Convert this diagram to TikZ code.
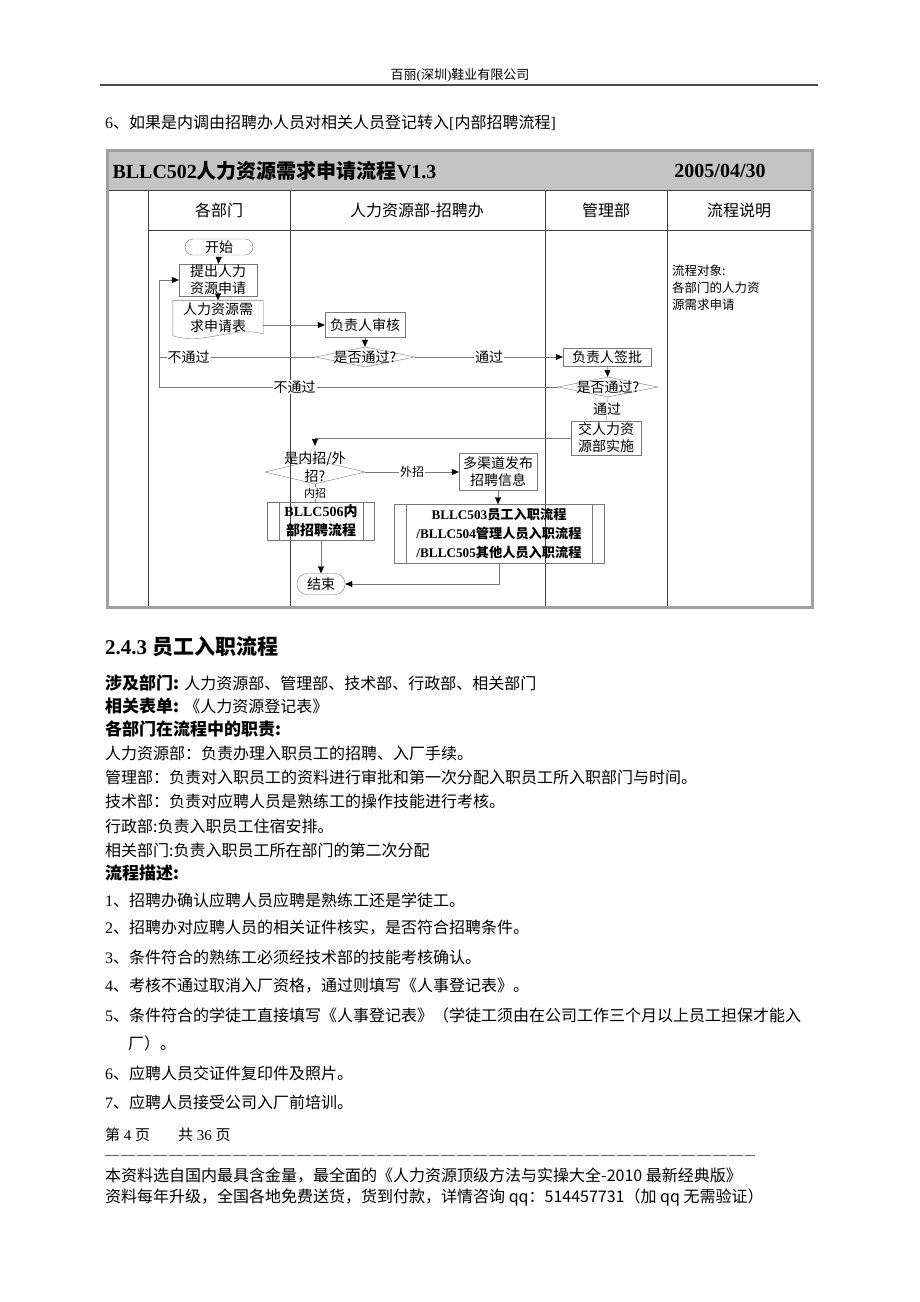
\documentclass[tikz,border=0pt]{standalone}
\usepackage{fontspec}
\setmainfont{Noto Sans CJK SC}
\newfontfamily\tnr{Liberation Serif}
\usetikzlibrary{shapes.geometric, arrows.meta, positioning, calc}
\definecolor{linegray}{RGB}{120,120,120}
\definecolor{framegray}{RGB}{160,160,160}
\definecolor{bargray}{RGB}{196,196,196}
\tikzstyle{procbox} = [draw=linegray, inner sep=1pt, align=center, font=\fontsize{14}{17}\selectfont]
\tikzstyle{terminal} = [draw=linegray, rounded corners=8pt, inner sep=1pt, font=\fontsize{14}{17}\selectfont]
\tikzstyle{decision} = [diamond, draw=linegray, inner sep=0pt, minimum width=100pt, minimum height=20pt, font=\fontsize{14}{18}\selectfont]
\tikzstyle{subproc} = [draw=linegray, inner sep=1pt, align=center, font=\bfseries\fontsize{14}{19}\selectfont]
\tikzstyle{arrow} = [linegray, -{Triangle[length=7pt,width=6pt,color=black]}]
\tikzstyle{connector} = [linegray]
\tikzstyle{flowlabel} = [fill=white, text=black, inner sep=1pt, font=\fontsize{14}{14}\selectfont]
\tikzstyle{lane} = [black!75, line width=0.8pt]
\tikzstyle{bodytext} = [anchor=west, inner sep=0pt, font=\fontsize{16}{16}\selectfont]
\tikzstyle{bodyhead} = [anchor=west, inner sep=0pt, font=\bfseries\fontsize{17}{17}\selectfont]

\begin{document}
\begin{tikzpicture}[x=1pt, y=-1pt]
        \useasboundingbox[fill=white] (0,0) rectangle (920,1302);

        % Page header
        \node[font=\fontsize{13}{13}\selectfont] (company) at (460,75) {百丽{\tnr (}深圳{\tnr )}鞋业有限公司};
        \draw[line width=2pt, black!70] (100,85) -- (818,85);
        \node[bodytext] (intro) at (105,123) {{\tnr 6}、如果是内调由招聘办人员对相关人员登记转入{\tnr [}内部招聘流程{\tnr ]}};

        % Swimlane frame
        \fill[bargray] (107,150) rectangle (812,190);
        \draw[lane] (107,190) -- (812,190);
        \draw[lane] (148,230) -- (812,230);
        \foreach \x in {148,290,545,667}
            \draw[lane] (\x,190) -- (\x,607);
        \draw[framegray, line width=3pt] (107,150) rectangle (812,607);

        \node[anchor=west, font=\bfseries\fontsize{20}{20}\selectfont] (title) at (109,171) {{\tnr BLLC502}人力资源需求申请流程{\tnr V1.3}};
        \node[font=\bfseries\fontsize{20}{20}\selectfont\tnr] (date) at (720,171) {2005/04/30};

        % Lane headers
        \node[font=\fontsize{16}{16}\selectfont] (dept) at (219,210) {各部门};
        \node[font=\fontsize{16}{16}\selectfont] (hr) at (417,210) {人力资源部-招聘办};
        \node[font=\fontsize{16}{16}\selectfont] (mgmt) at (606,210) {管理部};
        \node[font=\fontsize{16}{16}\selectfont] (notes) at (739,210) {流程说明};
        \node[anchor=north west, align=left, inner sep=0pt, font=\fontsize{12.5}{17}\selectfont] (scope) at (672,265) {流程对象:\\各部门的人力资\\源需求申请};

        % Flow nodes
        \node[terminal, minimum width=68pt, minimum height=16pt] (start) at (219,247) {开始};
        \node[procbox, minimum width=78pt] (ask) at (218,280) {提出人力\\资源申请};
        \node[procbox, draw=none, minimum width=90pt, minimum height=35pt] (form) at (218,318) {人力资源需\\求申请表};
        \draw[linegray] (form.south west) -- (form.north west) -- (form.north east) -- ($(form.south east)+(0,-2)$)
            .. controls ($(form.south east)+(-30,-10)$) and ($(form.south west)+(30,10)$) .. (form.south west);
        \node[procbox, minimum width=80pt, minimum height=25pt] (check) at (365,325) {负责人审核};
        \node[decision] (dec1) at (365,357) {\makebox[0pt]{是否通过?}};
        \node[procbox, minimum width=88pt, minimum height=18pt, inner sep=0pt] (sign) at (607,357) {负责人签批};
        \node[decision] (dec2) at (608,387) {\makebox[0pt]{是否通过?}};
        \node[procbox, minimum width=70pt, minimum height=34pt] (impl) at (606,438) {交人力资\\源部实施};
        \node[decision, minimum height=24pt] (dec3) at (315,472) {\smash{\makebox[0pt]{\begin{tabular}{@{}c@{}}是内招/外\\招?\end{tabular}}}};
        \node[procbox, minimum width=78pt, minimum height=37pt] (publish) at (498,472) {多渠道发布\\招聘信息};
        \node[subproc, minimum width=107pt, minimum height=38pt] (sub506) at (321,521) {{\tnr BLLC506}内\\部招聘流程};
        \draw[linegray] ([xshift=12pt]sub506.north west) -- ([xshift=12pt]sub506.south west);
        \draw[linegray] ([xshift=-12pt]sub506.north east) -- ([xshift=-12pt]sub506.south east);
        \node[subproc, minimum width=210pt, minimum height=59pt, font=\bfseries\fontsize{13.2}{19}\selectfont] (sub503) at (499,534) {{\tnr BLLC503}员工入职流程\\{\tnr /BLLC504}管理人员入职流程\\{\tnr /BLLC505}其他人员入职流程};
        \draw[linegray] ([xshift=12pt]sub503.north west) -- ([xshift=12pt]sub503.south west);
        \draw[linegray] ([xshift=-12pt]sub503.north east) -- ([xshift=-12pt]sub503.south east);
        \node[terminal, minimum width=48pt, minimum height=21pt, rounded corners=10pt] (end) at (321,584) {结束};

        % Arrows
        \coordinate (back) at (159,280);
        \draw[arrow] (start) -- (ask);
        \draw[arrow] (ask) -- (form);
        \draw[arrow] (form.east |- check.west) -- (check.west);
        \draw[arrow] (check) -- (dec1);
        \draw[arrow] (dec1.east) -- node[flowlabel] {通过} (sign.west);
        \draw[arrow] (dec1.west) -- node[flowlabel, pos=0.81] {不通过} (dec1.west -| back) -- (back) -- (ask.west);
        \draw[arrow] (sign) -- (dec2);
        \draw[connector] (dec2.west) -- node[flowlabel, pos=0.66] {不通过} (dec2.west -| back) -- (dec1.west -| back);
        \draw[connector] (dec2.south) -- node[flowlabel] {通过} (impl.north);
        \draw[arrow] (impl.west) -- (impl.west -| dec3.north) -- ([yshift=14pt]dec3.north);
        \draw[arrow] (dec3.east) -- node[flowlabel, font=\fontsize{12}{12}\selectfont] {外招} (publish.west);
        \draw[connector] (dec3.south) -- node[flowlabel, font=\fontsize{11}{11}\selectfont] {内招} (dec3.south |- sub506.north);
        \draw[arrow] (publish.south) -- (publish.south |- sub503.north);
        \draw[arrow] (sub506) -- (end);
        \draw[arrow] (sub503.south) |- (end.east);

        % Section text
        \node[anchor=west, inner sep=0pt, font=\bfseries\fontsize{21}{21}\selectfont] (section) at (105,647) {{\tnr 2.4.3} 员工入职流程};
        \node[bodyhead] (depts) at (105,683) {涉及部门: {\mdseries\fontsize{16}{16}\selectfont 人力资源部、管理部、技术部、行政部、相关部门}};
        \node[bodyhead] (forms) at (105,706) {相关表单: {\mdseries\fontsize{16}{16}\selectfont 《人力资源登记表》}};
        \node[bodyhead] (duties) at (105,729) {各部门在流程中的职责:};
        \node[bodytext] (duty1) at (105,753) {人力资源部：负责办理入职员工的招聘、入厂手续。};
        \node[bodytext] (duty2) at (105,777) {管理部：负责对入职员工的资料进行审批和第一次分配入职员工所入职部门与时间。};
        \node[bodytext] (duty3) at (105,801) {技术部：负责对应聘人员是熟练工的操作技能进行考核。};
        \node[bodytext] (duty4) at (105,826) {行政部:负责入职员工住宿安排。};
        \node[bodytext] (duty5) at (105,850) {相关部门:负责入职员工所在部门的第二次分配};
        \node[bodyhead] (steps) at (105,873) {流程描述:};
        \node[bodytext] (step1) at (105,900) {{\tnr 1}、招聘办确认应聘人员应聘是熟练工还是学徒工。};
        \node[bodytext] (step2) at (105,928) {{\tnr 2}、招聘办对应聘人员的相关证件核实，是否符合招聘条件。};
        \node[bodytext] (step3) at (105,957) {{\tnr 3}、条件符合的熟练工必须经技术部的技能考核确认。};
        \node[bodytext] (step4) at (105,986) {{\tnr 4}、考核不通过取消入厂资格，通过则填写《人事登记表》。};
        \node[bodytext] (step5) at (105,1015) {{\tnr 5}、条件符合的学徒工直接填写《人事登记表》（学徒工须由在公司工作三个月以上员工担保才能入};
        \node[bodytext] (step5b) at (128,1043) {厂）。};
        \node[bodytext] (step6) at (105,1073) {{\tnr 6}、应聘人员交证件复印件及照片。};
        \node[bodytext] (step7) at (105,1102) {{\tnr 7}、应聘人员接受公司入厂前培训。};

        % Page footer
        \node[bodytext, font=\fontsize{15}{15}\selectfont] (page) at (105,1135) {第{\tnr\ 4 }页\hspace{28pt}共{\tnr\ 36 }页};
        \draw[black!60, dash pattern=on 14pt off 2pt] (105,1155) -- (755,1155);
        \node[bodytext] (ad1) at (105,1176) {本资料选自国内最具含金量，最全面的《人力资源顶级方法与实操大全-2010 最新经典版》};
        \node[bodytext] (ad2) at (105,1197) {资料每年升级，全国各地免费送货，货到付款，详情咨询 qq：514457731（加 qq 无需验证）};
    \end{tikzpicture}
\end{document}
